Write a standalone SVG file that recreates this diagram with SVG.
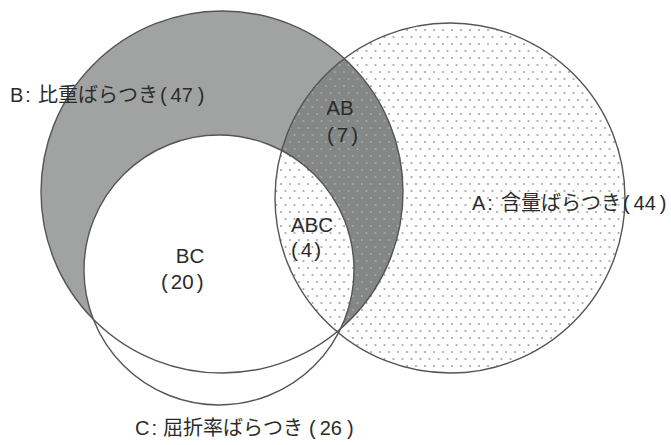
<svg xmlns="http://www.w3.org/2000/svg" width="671" height="445" viewBox="0 0 671 445">
<style>
.lbl{font-family:"Liberation Sans","Noto Sans CJK JP",sans-serif;font-size:20.5px;fill:#2b2b2b}
.set{font-size:20px}
.reg{text-anchor:middle}
.edge{fill:none;stroke:#555;stroke-width:1.4}
</style>
<defs>
<pattern id="dots" patternUnits="userSpaceOnUse" width="9" height="14">
<circle cx="2" cy="2" r="1.1" fill="#a6a6a6"/>
<circle cx="6.5" cy="9" r="1.1" fill="#a6a6a6"/>
</pattern>
<clipPath id="clipB"><circle cx="222" cy="192" r="181"/></clipPath>
</defs>
<rect width="671" height="445" fill="#fff"/>
<g id="fills">
<circle cx="222" cy="192" r="181" fill="#a1a3a3"/>
<circle cx="450" cy="198" r="175" fill="#858787" clip-path="url(#clipB)"/>
<circle cx="219" cy="270" r="135" fill="#fff"/>
<circle cx="450" cy="198" r="175" fill="url(#dots)"/>
</g>
<g id="set-B">
<circle class="edge" cx="222" cy="192" r="181"/>
<text class="lbl set" x="10" y="102">B<tspan dx="2">:</tspan><tspan dx="7">比重ばらつき</tspan><tspan dx="2">(</tspan><tspan dx="4">47</tspan><tspan dx="5">)</tspan></text>
</g>
<g id="set-A">
<circle class="edge" cx="450" cy="198" r="175"/>
<text class="lbl set" x="472" y="210">A<tspan dx="2">:</tspan><tspan dx="8">含量ばらつき</tspan><tspan dx="2">(</tspan><tspan dx="4">44</tspan><tspan dx="4">)</tspan></text>
</g>
<g id="set-C">
<circle class="edge" cx="219" cy="270" r="135"/>
<text class="lbl set" x="135" y="435">C<tspan dx="2">:</tspan><tspan dx="6">屈折率ばらつき</tspan><tspan dx="6">(</tspan><tspan dx="4">26</tspan><tspan dx="5">)</tspan></text>
</g>
<g id="region-AB">
<text class="lbl reg" x="340" y="115">AB</text>
<text class="lbl" x="327" y="142">(<tspan dx="3">7</tspan><tspan dx="3">)</tspan></text>
</g>
<g id="region-ABC">
<text class="lbl reg" x="312" y="232">ABC</text>
<text class="lbl" x="291" y="257">(<tspan dx="3">4</tspan><tspan dx="2">)</tspan></text>
</g>
<g id="region-BC">
<text class="lbl reg" x="190" y="263">BC</text>
<text class="lbl" x="161" y="289">(<tspan dx="3">20</tspan><tspan dx="3">)</tspan></text>
</g>
</svg>
